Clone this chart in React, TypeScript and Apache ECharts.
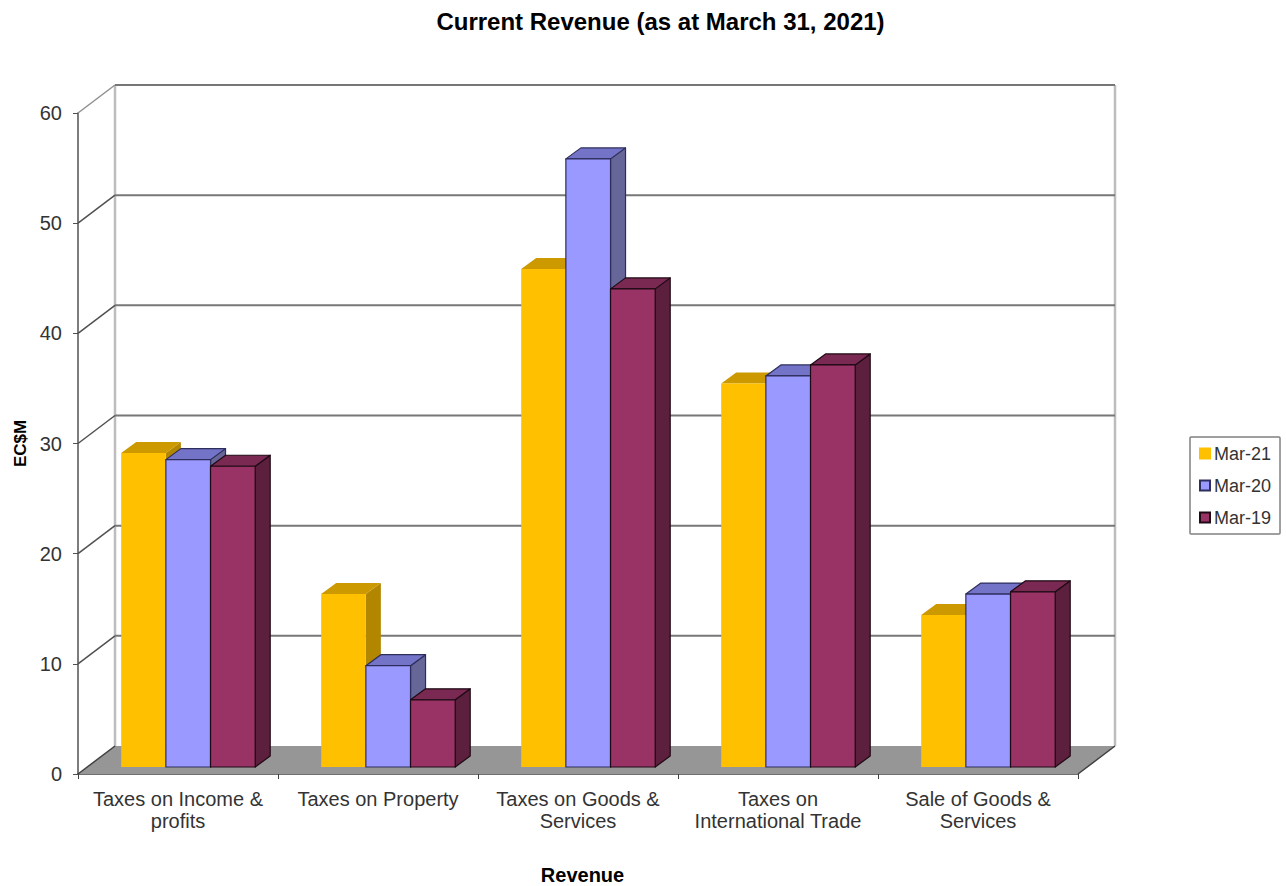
import React, { useEffect, useRef } from "react";
import * as echarts from "echarts";

const categories = [
  "Taxes on Income &\nprofits",
  "Taxes on Property",
  "Taxes on Goods &\nServices",
  "Taxes on\nInternational Trade",
  "Sale of Goods &\nServices",
];
const mar21 = [28.5, 15.7, 45.2, 34.8, 13.8];
const mar20 = [27.9, 9.2, 55.2, 35.5, 15.7];
const mar19 = [27.3, 6.1, 43.4, 36.5, 15.9];
const yTicks = [0, 10, 20, 30, 40, 50, 60];

const FONT = "'Liberation Sans', Arial, sans-serif";
const DEPTH_X = 37;
const DEPTH_Y = 28;
const BAR_DX = 10.2;
const BAR_DY = 7;
const BAR_DEPTH_X = 15;
const BAR_DEPTH_Y = 11;
const CLUSTER = 0.67;

function wallItem(params: any, api: any) {
  const cs = params.coordSys;
  const tick = api.value(1);
  const y = api.coord([0, tick])[1];
  const x0 = cs.x;
  const x1 = cs.x + cs.width;
  const children: any[] = [];
  const line = (a: number[], b: number[], stroke: string, lineWidth: number) => ({
    type: "line",
    shape: { x1: a[0], y1: a[1], x2: b[0], y2: b[1] },
    style: { stroke, lineWidth },
  });
  if (tick === 0) {
    children.push({
      type: "polygon",
      shape: {
        points: [
          [x0, y],
          [x0 + DEPTH_X, y - DEPTH_Y],
          [x1 + DEPTH_X, y - DEPTH_Y],
          [x1, y],
        ],
      },
      style: { fill: "#969696" },
    });
    children.push(line([x0 + DEPTH_X, y - DEPTH_Y], [x0 + DEPTH_X, cs.y - DEPTH_Y], "#bdbdbd", 2.5));
    children.push(line([x1 + DEPTH_X, y - DEPTH_Y], [x1 + DEPTH_X, cs.y - DEPTH_Y], "#bdbdbd", 2.5));
    children.push(line([x1, y], [x1 + DEPTH_X, y - DEPTH_Y], "#404040", 1.5));
    children.push(line([x0, y], [x0 + DEPTH_X, y - DEPTH_Y], "#404040", 1.5));
  } else {
    children.push(line([x0, y], [x0 + DEPTH_X, y - DEPTH_Y], tick === 60 ? "#909090" : "#505050", 1.5));
    children.push(line([x0 + DEPTH_X, y - DEPTH_Y], [x1 + DEPTH_X, y - DEPTH_Y], "#777777", 2));
  }
  return { type: "group", children };
}

function barRenderer(index: number, shades: { front: string; top: string; side: string; edge: string }) {
  return (_params: any, api: any) => {
    const base = api.coord([api.value(0), 0]);
    const head = api.coord([api.value(0), api.value(1)]);
    const w = (api.size([1, 0])[0] * CLUSTER) / 3;
    const left = base[0] + BAR_DX + (index - 1.5) * w;
    const right = left + w;
    const bottom = base[1] - BAR_DY;
    const top = head[1] - BAR_DY;
    const dx = BAR_DEPTH_X;
    const dy = BAR_DEPTH_Y;
    const edge = { stroke: shades.edge, lineWidth: 1.2, lineJoin: "round" };
    return {
      type: "group",
      children: [
        {
          type: "polygon",
          shape: { points: [[right, top], [right + dx, top - dy], [right + dx, bottom - dy], [right, bottom]] },
          style: { fill: shades.side, ...edge },
        },
        {
          type: "polygon",
          shape: { points: [[left, top], [left + dx, top - dy], [right + dx, top - dy], [right, top]] },
          style: { fill: shades.top, ...edge },
        },
        {
          type: "rect",
          shape: { x: left, y: top, width: right - left, height: bottom - top },
          style: { fill: shades.front, ...edge },
        },
      ],
    };
  };
}

const yellow = { front: "#FFC000", top: "#CC9900", side: "#B38600", edge: "none" };
const blue = { front: "#9999FF", top: "#7373C8", side: "#666699", edge: "#2E2E5C" };
const purple = { front: "#993366", top: "#7A2952", side: "#5C1F3D", edge: "#1E0A14" };

function barSeries(name: string, values: number[], index: number, shades: typeof yellow) {
  return {
    name,
    type: "custom",
    coordinateSystem: "cartesian2d",
    clip: false,
    silent: true,
    encode: { x: 0, y: 1 },
    data: values.map((v, i) => [i, v]),
    itemStyle: { color: shades.front, borderColor: shades === yellow ? shades.front : shades.edge, borderWidth: 1.2 },
    renderItem: barRenderer(index, shades),
  };
}

export default function App() {
  const ref = useRef<HTMLDivElement>(null);
  useEffect(() => {
    const chart = echarts.init(ref.current!, undefined, { renderer: "svg" });
    chart.setOption({
      animation: false,
      backgroundColor: "#ffffff",
      textStyle: { fontFamily: FONT },
      title: {
        text: "Current Revenue (as at March 31, 2021)",
        left: 655.5,
        top: 4,
        textAlign: "center",
        textStyle: { fontFamily: FONT, fontSize: 24, fontWeight: "bold", color: "#000" },
      },
      grid: { left: 78, right: 208, top: 113, bottom: 112, containLabel: false, outerBoundsMode: "none" },
      legend: {
        orient: "vertical",
        left: 1190,
        top: 437,
        padding: [6, 9, 6, 9],
        itemGap: 11,
        itemWidth: 10,
        itemHeight: 10,
        backgroundColor: "#fff",
        borderColor: "#808080",
        borderWidth: 1.5,
        borderRadius: 1,
        selectedMode: false,
        icon: "rect",
        data: ["Mar-21", "Mar-20", "Mar-19"],
        textStyle: { fontFamily: FONT, fontSize: 18, color: "#333", lineHeight: 21, padding: [0, 0, 0, -1] },
      },
      xAxis: {
        type: "category",
        data: categories,
        name: "Revenue",
        nameLocation: "middle",
        nameGap: 91,
        nameTextStyle: { fontFamily: FONT, fontSize: 20, fontWeight: "bold", color: "#000", padding: [0, 0, 0, 9] },
        axisLine: { show: true, lineStyle: { color: "#404040", width: 1.5 } },
        axisTick: { show: true, interval: 0, alignWithLabel: false, length: 5, lineStyle: { color: "#404040", width: 1 } },
        axisLabel: { interval: 0, fontFamily: FONT, fontSize: 20, color: "#333", lineHeight: 22, margin: 14 },
      },
      yAxis: {
        type: "value",
        min: 0,
        max: 60,
        interval: 10,
        name: "EC$M",
        nameLocation: "middle",
        nameGap: 49,
        nameTextStyle: { fontFamily: FONT, fontSize: 17, fontWeight: "bold", color: "#000" },
        axisLine: { show: true, lineStyle: { color: "#505050", width: 1.5 } },
        axisTick: { show: true, length: 5, lineStyle: { color: "#505050" } },
        axisLabel: { fontFamily: FONT, fontSize: 20, color: "#333", margin: 16 },
        splitLine: { show: false },
      },
      series: [
        {
          name: "wall",
          type: "custom",
          coordinateSystem: "cartesian2d",
          clip: false,
          silent: true,
          encode: { x: 0, y: 1 },
          data: yTicks.map((t) => [0, t]),
          renderItem: wallItem,
        },
        barSeries("Mar-21", mar21, 0, yellow),
        barSeries("Mar-20", mar20, 1, blue),
        barSeries("Mar-19", mar19, 2, purple),
      ],
    });
    return () => chart.dispose();
  }, []);
  return <div ref={ref} style={{ position: "fixed", left: 0, top: 0, width: 1286, height: 886 }} />;
}
